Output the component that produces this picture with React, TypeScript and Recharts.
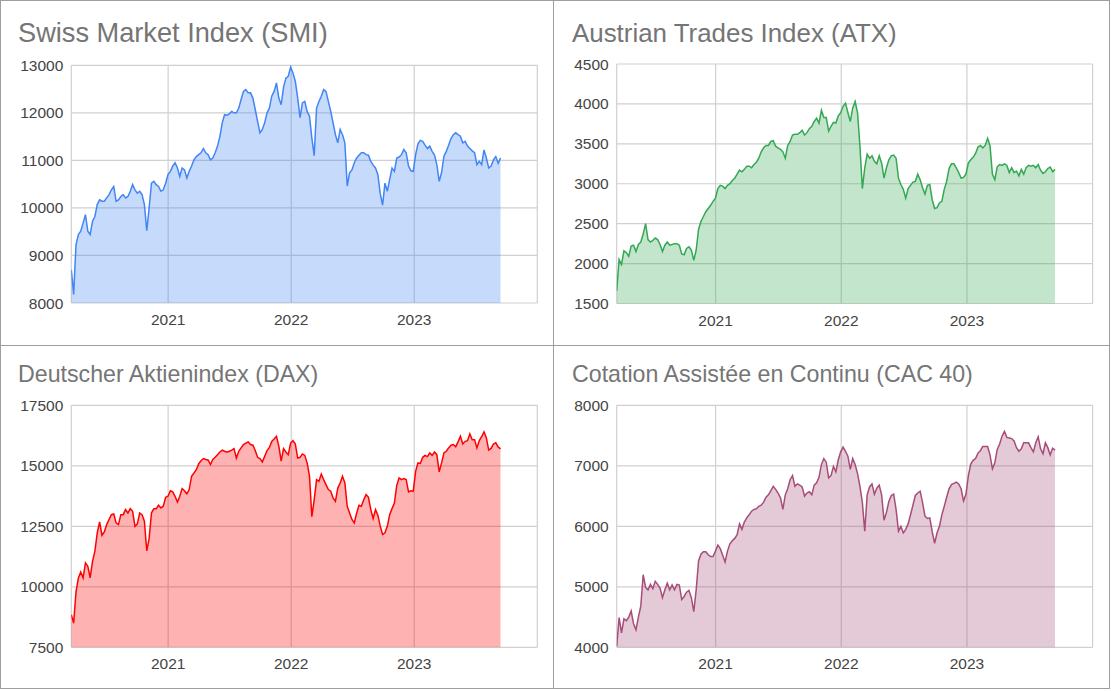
import React from 'react';
import { AreaChart, Area, XAxis, YAxis, CartesianGrid } from 'recharts';

// Weekly closing levels, first week = mid-March 2020
const weekStart = 2020.213;
const weekStep = 7 / 365.25;
const yearTicks = [2021, 2022, 2023, 2024];

const smiValues = [
  8700, 8180, 9230, 9440, 9510, 9680, 9860, 9510, 9440, 9720,
  9820, 10070, 10170, 10140, 10140, 10210, 10280, 10380, 10450, 10140,
  10170, 10240, 10280, 10210, 10240, 10350, 10490, 10380, 10310, 10350,
  10280, 10070, 9520, 10000, 10520, 10560, 10490, 10450, 10350, 10380,
  10520, 10700, 10770, 10880, 10950, 10840, 10660, 10840, 10800, 10630,
  10770, 10880, 11010, 11080, 11120, 11160, 11250, 11160, 11120, 11010,
  11050, 11160, 11300, 11500, 11790, 11960, 11950, 11980, 12030, 12000,
  12000, 12100, 12280, 12450, 12490, 12420, 12420, 12310, 12070, 11820,
  11580, 11650, 11790, 12000, 12100, 12350, 12450, 12630, 12310, 12170,
  12540, 12730, 12770, 12960, 12840, 12660, 12310, 11900, 12210, 12240,
  12030, 11930, 11470, 11100, 12100, 12240, 12350, 12490, 12450, 12240,
  12030, 11790, 11540, 11370, 11650, 11540, 11370, 10460, 10740, 10800,
  10950, 11050, 11110, 11160, 11160, 11120, 11110, 10980, 10900, 10840,
  10700, 10300, 10060, 10520, 10350, 10600, 10840, 10770, 11050, 11070,
  11120, 11230, 11160, 10880, 10780, 10770, 11120, 11350, 11420, 11400,
  11320, 11250, 11300, 11190, 11110, 10910, 10560, 10740, 11090, 11190,
  11320, 11460, 11540, 11580, 11540, 11510, 11370, 11400, 11300, 11250,
  11200, 11160, 10910, 10980, 10910, 11220, 11050, 10840, 10880, 11010,
  11080, 10940, 11050,
];

const atxValues = [
  1660, 2050, 1990, 2160, 2140, 2090, 2220, 2230, 2150, 2240,
  2270, 2370, 2500, 2300, 2270, 2290, 2320, 2300, 2240, 2150,
  2230, 2270, 2230, 2240, 2250, 2250, 2230, 2120, 2110, 2190,
  2210, 2170, 2040, 2170, 2430, 2530, 2590, 2650, 2690, 2730,
  2780, 2820, 2940, 2980, 2970, 2940, 2980, 3000, 3040, 3070,
  3120, 3170, 3150, 3180, 3220, 3220, 3200, 3240, 3270, 3320,
  3400, 3450, 3480, 3480, 3530, 3540, 3470, 3450, 3430, 3400,
  3320, 3480, 3530, 3610, 3620, 3620, 3640, 3670, 3610, 3640,
  3690, 3720, 3780, 3820, 3760, 3920, 3830, 3830, 3660, 3720,
  3770, 3760, 3850, 3890, 3970, 4010, 3890, 3780, 3950, 4030,
  3890, 3470, 2940, 3200, 3370, 3320, 3350, 3280, 3250, 3350,
  3260, 3070, 3200, 3300, 3350, 3360, 3320, 3070, 2990, 2930,
  2820, 2940, 2980, 3020, 3030, 3120, 3050, 2950, 2870, 2980,
  2990, 2800, 2690, 2700, 2760, 2780, 2930, 3030, 3190, 3250,
  3250, 3200, 3140, 3070, 3080, 3120, 3260, 3300, 3330, 3380,
  3460, 3480, 3450, 3480, 3570, 3480, 3120, 3050, 3210, 3240,
  3230, 3250, 3230, 3140, 3200, 3140, 3160, 3100, 3180, 3120,
  3200, 3230, 3220, 3230, 3200, 3240, 3170, 3130, 3150, 3190,
  3210, 3150, 3180,
];

const daxValues = [
  8850, 8500, 9800, 10370, 10610, 10370, 10990, 10850, 10370, 11050,
  11470, 12230, 12680, 12130, 12270, 12570, 12780, 12980, 13010, 12640,
  12570, 12980, 12980, 13190, 13050, 13230, 13120, 12500, 12600, 13050,
  12980, 12710, 11480, 12000, 13050, 13230, 13230, 13370, 13260, 13330,
  13700, 13740, 13970, 13920, 13740, 13500, 13740, 14060, 13970, 13840,
  14020, 14570, 14700, 14840, 15080, 15210, 15300, 15260, 15240, 15050,
  15260, 15350, 15460, 15570, 15650, 15600, 15560, 15600, 15650, 15710,
  15320, 15600, 15740, 15880, 15940, 15990, 15880, 15850, 15630, 15350,
  15300, 15160, 15390, 15630, 15760, 16010, 16110, 16220, 15810, 15190,
  15710, 15570, 15460, 15940, 16040, 15900, 15320, 15350, 15490, 15430,
  15120, 14570, 12900, 13600, 14430, 14360, 14660, 14430, 14220, 14020,
  13950, 13670, 13530, 14080, 14290, 14570, 14290, 13330, 13050, 12780,
  12640, 13050, 13370, 13330, 13600, 13810, 13700, 13190, 12820, 13190,
  12960, 12500, 12160, 12230, 12500, 12980, 13230, 13460, 14190, 14500,
  14430, 14470, 14430, 13920, 13970, 13950, 14770, 15120, 15100, 15350,
  15430, 15380, 15530, 15430, 15570, 15460, 14750, 15120, 15530, 15600,
  15740, 15850, 15880, 15790, 15990, 16220, 15900, 16010, 16040, 16320,
  16080, 16080, 15740, 16040, 16200, 16400, 16150, 15650, 15720, 15900,
  15950, 15780, 15700,
];

const cacValues = [
  4020, 4490, 4240, 4470, 4440, 4500, 4600, 4390, 4290, 4500,
  4680, 5200, 4990, 4950, 5040, 4970, 5090, 5040, 4980, 4820,
  4950, 5060, 4950, 5030, 4950, 5040, 5030, 4790, 4840, 4910,
  4940, 4820, 4590, 4950, 5430, 5540, 5580, 5580, 5530, 5500,
  5500, 5590, 5690, 5630, 5520, 5410, 5590, 5710, 5760, 5800,
  5860, 6040, 5950, 6070, 6140, 6190, 6250, 6280, 6290, 6330,
  6350, 6400, 6480, 6520, 6590, 6660, 6610, 6550, 6470, 6280,
  6520, 6620, 6770, 6840, 6660, 6700, 6680, 6650, 6500, 6550,
  6570, 6520, 6680, 6720, 6810, 7020, 7120, 7060, 6800, 6840,
  6990, 6900, 7100, 7230, 7310, 7240, 7160, 6940, 7120, 7020,
  6870, 6660, 6390, 5920, 6520, 6650, 6700, 6530, 6630, 6680,
  6520, 6100, 6230, 6410, 6510, 6530, 6280, 5920, 6000, 5890,
  5950, 6040, 6190, 6350, 6510, 6550, 6580, 6390, 6170, 6130,
  6140, 5910, 5720, 5890, 6000, 6190, 6330, 6480, 6620, 6690,
  6710, 6730, 6700, 6620, 6420, 6530, 6830, 7030, 7090, 7120,
  7210, 7250, 7320, 7320, 7320, 7180, 6950, 7050, 7270, 7360,
  7490, 7570, 7470, 7460, 7450, 7410, 7300, 7240, 7280, 7380,
  7380, 7380, 7300, 7230, 7380, 7480, 7280, 7200, 7380, 7300,
  7180, 7290, 7260,
];

const smiTicks = [8000, 9000, 10000, 11000, 12000, 13000];
const atxTicks = [1500, 2000, 2500, 3000, 3500, 4000, 4500];
const daxTicks = [7500, 10000, 12500, 15000, 17500];
const cacTicks = [4000, 5000, 6000, 7000, 8000];

const titles = [
  'Swiss Market Index (SMI)',
  'Austrian Trades Index (ATX)',
  'Deutscher Aktienindex (DAX)',
  'Cotation Assistée en Continu (CAC 40)',
];

const FONT = "'Liberation Sans', Arial, sans-serif";
const PANEL_W = 554;
const PANEL_H = 345;

function toRows(values: number[]) {
  return values.map((v, i) => ({ t: weekStart + i * weekStep, v }));
}

type PanelProps = {
  left: number;
  top: number;
  values: number[];
  ticks: number[];
  color: string;
  yWidth: number;
  margin: { top: number; right: number; bottom: number; left: number };
};

function Panel({ left, top, values, ticks, color, yWidth, margin }: PanelProps) {
  const tickStyle = { fill: '#444444', fontSize: 15.5, fontFamily: FONT };
  return (
    <div style={{ position: 'absolute', left, top }}>
      <AreaChart width={PANEL_W} height={PANEL_H} data={toRows(values)} margin={margin}>
        <CartesianGrid stroke="#d0d0d0" strokeWidth={1.2} />
        <XAxis
          dataKey="t"
          type="number"
          domain={[weekStart, 2024]}
          ticks={yearTicks}
          interval={0}
          allowDataOverflow
          tickFormatter={(t: number) => (t === 2024 ? '' : String(t))}
          axisLine={false}
          tickLine={false}
          tick={tickStyle}
          tickMargin={5}
          height={30}
        />
        <YAxis
          type="number"
          domain={[ticks[0], ticks[ticks.length - 1]]}
          ticks={ticks}
          interval={0}
          width={yWidth}
          axisLine={false}
          tickLine={false}
          tick={tickStyle}
        />
        <Area
          type="linear"
          dataKey="v"
          stroke={color}
          strokeWidth={1.5}
          fill={color}
          fillOpacity={0.3}
          dot={false}
          activeDot={false}
          isAnimationActive={false}
        />
      </AreaChart>
    </div>
  );
}

export default function App() {
  return (
    <div style={{ position: 'absolute', left: 0, top: 0, width: 1111, height: 692, background: '#fff', fontFamily: FONT }}>
      <Panel left={0} top={0} values={smiValues} ticks={smiTicks} color="#4285f4" yWidth={60}
        margin={{ top: 65.3, right: 16.7, bottom: 12, left: 11.3 }} />
      <Panel left={554} top={0} values={atxValues} ticks={atxTicks} color="#34a853" yWidth={50}
        margin={{ top: 64, right: 15.4, bottom: 11.5, left: 12.7 }} />
      <Panel left={0} top={345} values={daxValues} ticks={daxTicks} color="#ff0000" yWidth={60}
        margin={{ top: 60.3, right: 16.7, bottom: 12.7, left: 11.3 }} />
      <Panel left={554} top={345} values={cacValues} ticks={cacTicks} color="#a64d79" yWidth={50}
        margin={{ top: 60.3, right: 15.4, bottom: 12.7, left: 12.7 }} />
      <svg width={1111} height={692} style={{ position: 'absolute', left: 0, top: 0, pointerEvents: 'none' }}>
        <text x={18} y={41.5} fontSize={27.2} fill="#757575" fontFamily={FONT}>{titles[0]}</text>
        <text x={572} y={41.5} fontSize={25.9} fill="#757575" fontFamily={FONT}>{titles[1]}</text>
        <text x={18} y={381.7} fontSize={23.2} fill="#757575" fontFamily={FONT}>{titles[2]}</text>
        <text x={572} y={381.7} fontSize={23.2} fill="#757575" fontFamily={FONT}>{titles[3]}</text>
        <rect x={0.5} y={0.5} width={1109} height={688} fill="none" stroke="#9e9e9e" strokeWidth={1} />
        <line x1={553.5} y1={0} x2={553.5} y2={689} stroke="#9e9e9e" strokeWidth={1} />
        <line x1={0} y1={345.5} x2={1110} y2={345.5} stroke="#9e9e9e" strokeWidth={1} />
      </svg>
    </div>
  );
}
